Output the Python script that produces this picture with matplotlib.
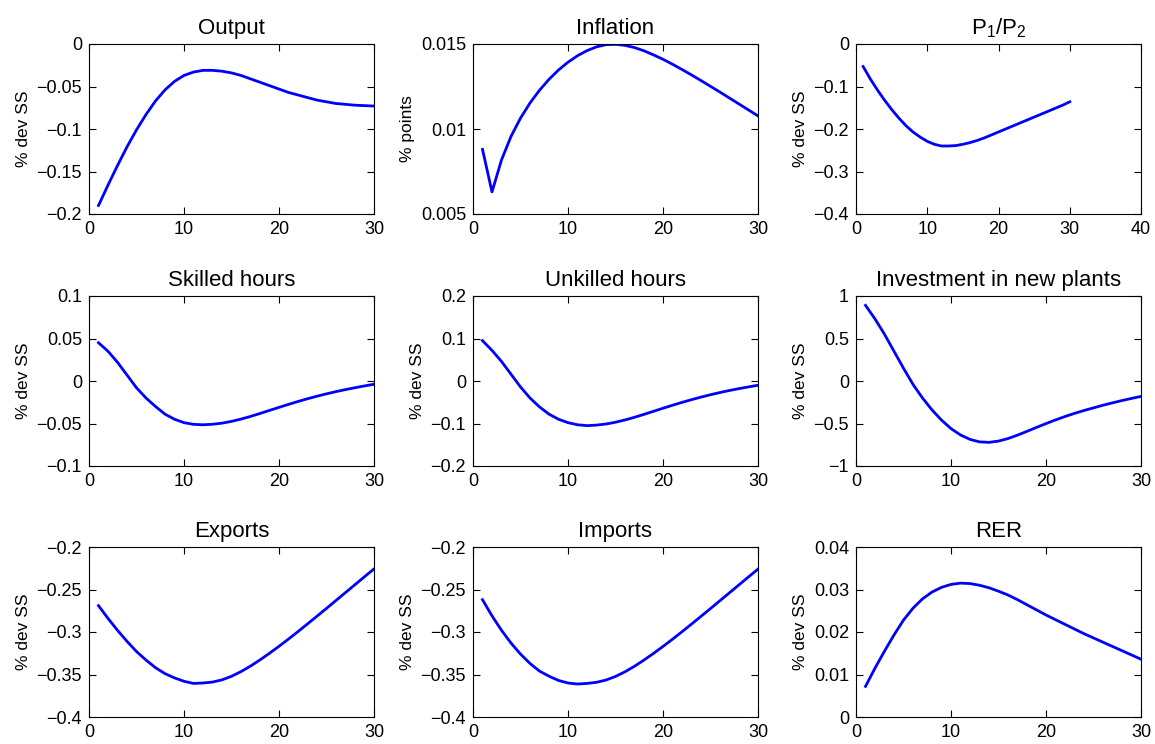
import numpy as np
import matplotlib
matplotlib.use("Agg")
import matplotlib.pyplot as plt
from matplotlib.ticker import FuncFormatter

plt.rcParams['font.family'] = ['Liberation Sans', 'DejaVu Sans']
plt.rcParams['mathtext.fontset'] = 'custom'
plt.rcParams['mathtext.rm'] = 'Liberation Sans'

periods = np.arange(1, 31)

output = [-0.190, -0.166, -0.143, -0.121, -0.101, -0.083, -0.067, -0.054, -0.044, -0.037,
          -0.033, -0.031, -0.031, -0.032, -0.034, -0.037, -0.041, -0.045, -0.049, -0.053,
          -0.057, -0.060, -0.063, -0.066, -0.068, -0.070, -0.071, -0.072, -0.0725, -0.073]
inflation = [0.0088, 0.0063, 0.00818, 0.00956, 0.01064, 0.01153, 0.01228, 0.01292, 0.01347, 0.01393,
             0.01431, 0.01461, 0.01483, 0.01496, 0.01498, 0.01492, 0.01479, 0.01460, 0.01436, 0.01410,
             0.01381, 0.01350, 0.01318, 0.01285, 0.01251, 0.01217, 0.01182, 0.01147, 0.01112, 0.01077]
p1_p2 = [-0.053, -0.082, -0.108, -0.132, -0.154, -0.174, -0.192, -0.207, -0.219, -0.229,
         -0.236, -0.240, -0.240, -0.239, -0.236, -0.232, -0.227, -0.221, -0.214, -0.207,
         -0.200, -0.193, -0.186, -0.179, -0.172, -0.165, -0.158, -0.151, -0.144, -0.136]
skilled = [0.045, 0.035, 0.022, 0.007, -0.008, -0.020, -0.030, -0.039, -0.045, -0.049,
           -0.051, -0.0515, -0.0509, -0.0496, -0.0475, -0.0448, -0.0417, -0.0382, -0.0346, -0.0310,
           -0.0275, -0.0241, -0.0209, -0.0179, -0.0151, -0.0125, -0.0101, -0.0079, -0.0058, -0.0038]
unskilled = [0.095, 0.072, 0.046, 0.016, -0.014, -0.040, -0.061, -0.078, -0.090, -0.098,
             -0.103, -0.105, -0.1038, -0.1012, -0.0970, -0.0916, -0.0854, -0.0785, -0.0713, -0.0641,
             -0.0571, -0.0503, -0.0439, -0.0379, -0.0323, -0.0271, -0.0223, -0.0179, -0.0139, -0.0100]
investment = [0.89, 0.73, 0.55, 0.35, 0.15, -0.04, -0.20, -0.34, -0.46, -0.56,
              -0.635, -0.687, -0.716, -0.722, -0.707, -0.677, -0.637, -0.592, -0.546, -0.501,
              -0.458, -0.418, -0.381, -0.347, -0.316, -0.285, -0.257, -0.230, -0.205, -0.181]
exports = [-0.269, -0.284, -0.298, -0.311, -0.323, -0.333, -0.342, -0.349, -0.354, -0.358,
           -0.3605, -0.3600, -0.3589, -0.3563, -0.3521, -0.3466, -0.3401, -0.3328, -0.3250, -0.3168,
           -0.3083, -0.2995, -0.2905, -0.2814, -0.2722, -0.2629, -0.2536, -0.2443, -0.2350, -0.2258]
imports = [-0.262, -0.281, -0.298, -0.313, -0.326, -0.337, -0.346, -0.352, -0.357, -0.360,
           -0.3612, -0.3605, -0.3592, -0.3565, -0.3523, -0.3468, -0.3403, -0.3330, -0.3252, -0.3170,
           -0.3085, -0.2997, -0.2907, -0.2816, -0.2724, -0.2631, -0.2538, -0.2445, -0.2352, -0.2260]
rer = [0.0072, 0.0115, 0.0155, 0.0193, 0.0228, 0.0256, 0.0278, 0.0294, 0.0305, 0.0312,
       0.0315, 0.0314, 0.0310, 0.0304, 0.0296, 0.0287, 0.0276, 0.0264, 0.0252, 0.0240,
       0.0229, 0.0218, 0.0207, 0.0196, 0.0186, 0.0176, 0.0166, 0.0156, 0.0146, 0.0136]

titles = ['Output', 'Inflation', r'P$_\mathregular{1}$/P$_\mathregular{2}$',
          'Skilled hours', 'Unkilled hours', 'Investment in new plants',
          'Exports', 'Imports', 'RER']
ylabels = ['% dev SS', '% points', '% dev SS',
           '% dev SS', '% dev SS', '% dev SS',
           '% dev SS', '% dev SS', '% dev SS']
series = [output, inflation, p1_p2, skilled, unskilled, investment, exports, imports, rer]
ylims = [(-0.2, 0), (0.005, 0.015), (-0.4, 0), (-0.1, 0.1), (-0.2, 0.2), (-1, 1),
         (-0.4, -0.2), (-0.4, -0.2), (0, 0.04)]
yticks = [[-0.2, -0.15, -0.1, -0.05, 0], [0.005, 0.01, 0.015], [-0.4, -0.3, -0.2, -0.1, 0],
          [-0.1, -0.05, 0, 0.05, 0.1], [-0.2, -0.1, 0, 0.1, 0.2], [-1, -0.5, 0, 0.5, 1],
          [-0.4, -0.35, -0.3, -0.25, -0.2], [-0.4, -0.35, -0.3, -0.25, -0.2],
          [0, 0.01, 0.02, 0.03, 0.04]]
xmax = [30, 30, 40, 30, 30, 30, 30, 30, 30]

fmt = FuncFormatter(lambda v, p: ('%g' % round(v, 6)).replace('-', '\u2212'))

fig = plt.figure(figsize=(11.55, 7.44), dpi=100)
lefts = [89, 473, 856]
tops = [44, 296, 547]
w, h = 285, 170

for i in range(9):
    r, c = divmod(i, 3)
    ax = fig.add_axes([lefts[c] / 1155, (744 - tops[r] - h) / 744, w / 1155, h / 744])
    ax.plot(periods, series[i], color='#0000ff', lw=2.0)
    ax.set_xlim(0, xmax[i])
    ax.set_xticks(np.arange(0, xmax[i] + 1, 10))
    ax.set_ylim(*ylims[i])
    ax.set_yticks(yticks[i])
    ax.yaxis.set_major_formatter(fmt)
    ax.tick_params(direction='in', top=True, right=True, length=5, width=0.8,
                   labelsize=13, pad=5)
    ax.set_title(titles[i], fontsize=16, pad=7)
    ax.set_ylabel(ylabels[i], fontsize=12.5, labelpad=4)
    for s in ax.spines.values():
        s.set_linewidth(0.8)

fig.savefig('out.png', dpi=100)
